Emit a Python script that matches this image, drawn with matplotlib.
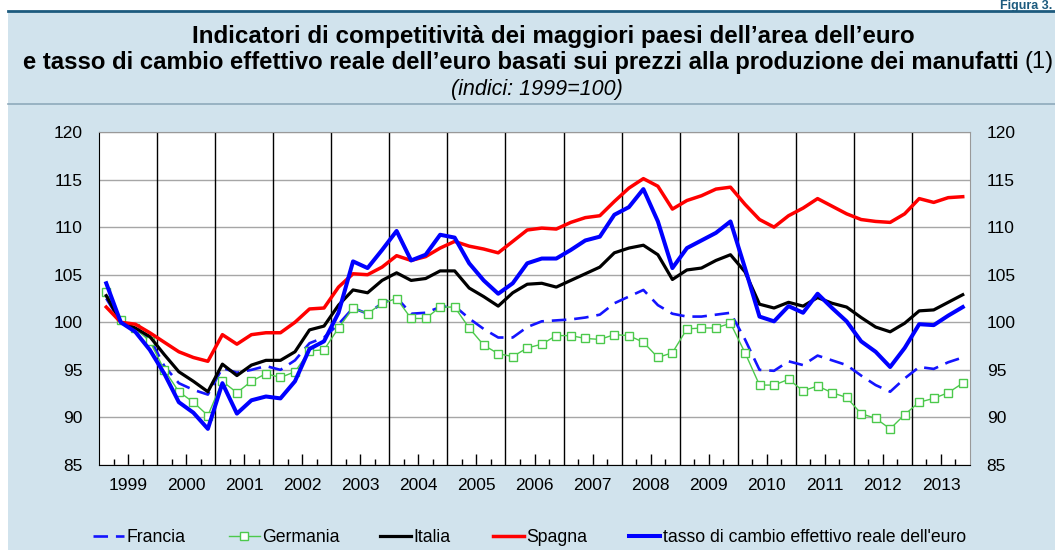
import numpy as np
import matplotlib.pyplot as plt
from matplotlib.patches import Rectangle
from matplotlib.lines import Line2D

plt.rcParams['font.family'] = ['Liberation Sans', 'DejaVu Sans']

# quarterly data, 1999Q1 - 2013Q4 (indices: 1999=100)
years = list(range(1999, 2014))

francia = [102.5, 100.0, 99.3, 98.3, 95.4, 93.6, 92.9, 92.4, 95.2, 94.7, 95.0, 95.4, 95.0, 96.0, 97.8, 98.4,
           99.8, 101.5, 100.9, 102.0, 102.6, 100.9, 101.0, 101.6, 101.7, 100.4, 99.3, 98.4, 98.4, 99.5,
           100.1, 100.2, 100.3, 100.5, 100.8, 102.0, 102.7, 103.4, 101.8, 100.9, 100.6, 100.6, 100.8, 101.0, 98.2,
           95.0, 94.9, 95.9, 95.5, 96.5, 96.0, 95.5, 94.4, 93.4, 92.7, 94.1, 95.3, 95.1, 95.8, 96.3]

germania = [103.2, 100.2, 99.4, 98.0, 95.0, 92.7, 91.6, 90.2, 93.8, 92.6, 93.8, 94.6, 94.2, 94.8, 97.0, 97.1,
            99.4, 101.5, 100.9, 102.0, 102.5, 100.4, 100.4, 101.6, 101.6, 99.4, 97.6, 96.7, 96.4, 97.3,
            97.7, 98.6, 98.6, 98.3, 98.2, 98.7, 98.6, 97.9, 96.3, 96.8, 99.3, 99.4, 99.4, 99.9, 96.8,
            93.4, 93.4, 94.0, 92.8, 93.3, 92.6, 92.1, 90.4, 89.9, 88.8, 90.3, 91.6, 92.0, 92.6, 93.6]

italia = [102.8, 100.0, 99.4, 98.5, 96.6, 94.8, 93.8, 92.7, 95.6, 94.4, 95.5, 96.0, 96.0, 96.9, 99.2, 99.6,
          101.8, 103.4, 103.1, 104.4, 105.2, 104.4, 104.6, 105.4, 105.4, 103.6, 102.7, 101.7, 103.1, 104.0,
          104.1, 103.7, 104.4, 105.1, 105.8, 107.3, 107.8, 108.1, 107.1, 104.5, 105.5, 105.7, 106.5, 107.1, 105.3,
          101.9, 101.5, 102.1, 101.7, 102.6, 102.0, 101.6, 100.5, 99.5, 99.0, 99.9, 101.2, 101.3, 102.1, 102.9]

spagna = [101.6, 100.0, 99.8, 98.9, 97.9, 96.9, 96.3, 95.9, 98.7, 97.7, 98.7, 98.9, 98.9, 100.0, 101.4, 101.5,
          103.7, 105.1, 105.0, 105.8, 107.0, 106.5, 106.9, 107.8, 108.5, 108.0, 107.7, 107.3, 108.5, 109.7,
          109.9, 109.8, 110.5, 111.0, 111.2, 112.7, 114.1, 115.1, 114.3, 111.9, 112.8, 113.3, 114.0, 114.2, 112.4,
          110.8, 110.0, 111.2, 112.0, 113.0, 112.2, 111.4, 110.8, 110.6, 110.5, 111.4, 113.0, 112.6, 113.1, 113.2]

tasso = [104.1, 100.0, 99.0, 97.1, 94.6, 91.6, 90.5, 88.8, 93.6, 90.4, 91.8, 92.2, 92.0, 93.8, 97.2, 98.0,
         101.0, 106.4, 105.7, 107.6, 109.6, 106.5, 107.1, 109.2, 108.9, 106.2, 104.4, 103.0, 104.1, 106.2,
         106.7, 106.7, 107.6, 108.6, 109.0, 111.3, 112.1, 114.0, 110.6, 105.7, 107.8, 108.6, 109.4, 110.6, 105.7,
         100.6, 100.1, 101.7, 101.0, 103.0, 101.5, 100.1, 98.0, 96.9, 95.3, 97.3, 99.8, 99.7, 100.7, 101.6]

labels = ['Francia', 'Germania', 'Italia', 'Spagna', "tasso di cambio effettivo reale dell'euro"]

bg = '#d1e3ed'
W, H = 1055, 550

fig = plt.figure(figsize=(W / 100, H / 100), dpi=100, facecolor='white')
fig.patches.append(Rectangle((8 / W, 0), 1 - 8 / W, 1 - 11 / H, transform=fig.transFigure,
                             facecolor=bg, edgecolor='none', zorder=-10))
fig.add_artist(Line2D([8 / W, 1], [1 - 11 / H] * 2, color='#1d5b7e', lw=2))
fig.add_artist(Line2D([8 / W, 1], [1 - 104 / H] * 2, color='#8eaabb', lw=1.2))

fig.text(1052 / W, 1 - 0.5 / H, 'Figura 3.', ha='right', va='top', fontsize=9,
         fontweight='bold', color='#1d5b7e')
fig.text(553 / W, 1 - 36 / H, 'Indicatori di competitività dei maggiori paesi dell’area dell’euro',
         ha='center', va='center', fontsize=17.4, fontweight='bold')
fig.text(1019 / W, 1 - 62 / H,
         'e tasso di cambio effettivo reale dell’euro basati sui prezzi alla produzione dei manufatti',
         ha='right', va='center', fontsize=17.2, fontweight='bold')
fig.text(1024 / W, 1 - 62 / H, '(1)', ha='left', va='center', fontsize=17)
fig.text(537 / W, 1 - 89 / H, '(indici: 1999=100)', ha='center', va='center', fontsize=15.5,
         style='italic')

ax = fig.add_axes([99 / W, 85 / H, 871 / W, 333 / H])
ax.set_facecolor('white')

x = np.arange(len(tasso)) + 0.5
l1, = ax.plot(x, francia, color='#1414ff', lw=1.9, dashes=(5.5, 3), zorder=3)
l2, = ax.plot(x, germania, color='#4cc94c', lw=1, marker='s', ms=5.5, mfc='white',
              mec='#4cc94c', mew=1, zorder=3)
l3, = ax.plot(x, italia, color='black', lw=2.3, zorder=4)
l4, = ax.plot(x, spagna, color='#ff0000', lw=2.5, zorder=4)
l5, = ax.plot(x, tasso, color='#0000ff', lw=2.9, zorder=5)

ax.set_xlim(0, 4 * len(years))
ax.set_ylim(85, 120)
for k in range(1, len(years)):
    ax.axvline(4 * k, color='black', lw=1, zorder=2)

ax.set_yticks(range(85, 121, 5))
ax.yaxis.grid(True, color='#a6a6a6', lw=1)
ax.set_axisbelow(True)
ax.tick_params(axis='y', length=0, labelsize=12.5, pad=12, labelright=True)

ax.set_xticks([4 * k + 2 for k in range(len(years))])
ax.set_xticklabels([str(y) for y in years])
ax.set_xticks([4 * k + q for k in range(len(years)) for q in (1, 3)], minor=True)
ax.tick_params(axis='x', which='major', direction='in', length=8, width=1, labelsize=12.5, pad=9)
ax.tick_params(axis='x', which='minor', direction='in', length=4, width=1)

for s in ('top', 'right'):
    ax.spines[s].set_color('#999999')
for s in ('left', 'bottom'):
    ax.spines[s].set_color('black')

# one legend entry per position, as in the original layout
leg_x = [93, 229, 380, 493, 629]
for h, lab, lx in zip([l1, l2, l3, l4, l5], labels, leg_x):
    fig.legend([h], [lab], loc='center left', bbox_to_anchor=(lx / W, 12 / H), frameon=False,
               fontsize=12.7, handlelength=1.75, handletextpad=0.15, borderpad=0,
               borderaxespad=0, numpoints=1)

fig.savefig('out.png', dpi=100, facecolor=fig.get_facecolor())
